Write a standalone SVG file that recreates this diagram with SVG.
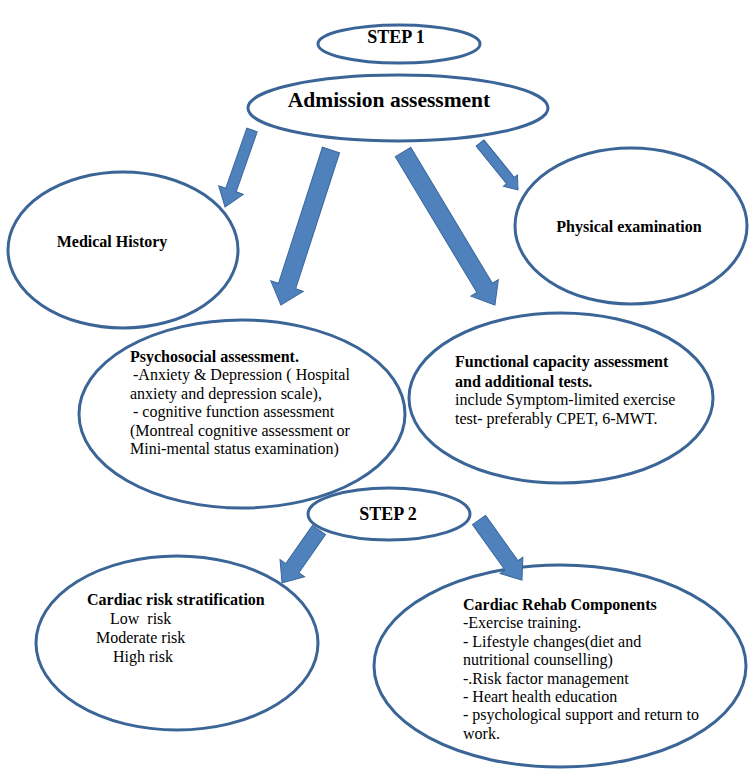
<svg xmlns="http://www.w3.org/2000/svg" width="755" height="776" viewBox="0 0 755 776">
<style>
.node{fill:#fff;stroke:#3b6597;stroke-width:3}
.arrow{fill:#4f81bd;stroke:#3a679c;stroke-width:1}
.b{font-family:"Liberation Serif","Times New Roman",serif;font-weight:bold;font-size:16px;fill:#000}
.t{font-family:"Liberation Serif","Times New Roman",serif;font-size:16px;fill:#000}
</style>
<rect width="755" height="776" fill="#fff"/>
<g id="step1"><ellipse class="node" cx="399" cy="44" rx="81" ry="19"/><text class="b" style="font-size:18px" x="396" y="43" text-anchor="middle">STEP 1</text></g>
<g id="admission"><ellipse class="node" cx="398" cy="108" rx="150" ry="33"/><text class="b" style="font-size:21.5px" x="389" y="107" text-anchor="middle">Admission assessment</text></g>
<g id="medical"><ellipse class="node" cx="123" cy="250" rx="115" ry="78"/><text class="b" x="112" y="247" text-anchor="middle">Medical History</text></g>
<g id="physical"><ellipse class="node" cx="631" cy="226" rx="116" ry="78"/><text class="b" x="629" y="232" text-anchor="middle">Physical examination</text></g>
<g id="psychosocial"><ellipse class="node" cx="242" cy="414" rx="163" ry="94"/>
<text class="b" x="130" y="362">Psychosocial assessment.</text>
<text class="t" x="133" y="380">-Anxiety &amp; Depression ( Hospital</text>
<text class="t" x="130" y="399">anxiety and depression scale),</text>
<text class="t" x="133" y="417">- cognitive function assessment</text>
<text class="t" x="130" y="436">(Montreal cognitive assessment or</text>
<text class="t" x="130" y="454">Mini-mental status examination)</text>
</g>
<g id="functional"><ellipse class="node" cx="561" cy="398" rx="152" ry="85"/>
<text class="b" x="455" y="367">Functional capacity assessment</text>
<text class="b" x="455" y="387">and additional tests.</text>
<text class="t" x="455" y="405">include Symptom-limited exercise</text>
<text class="t" x="455" y="424">test- preferably CPET, 6-MWT.</text>
</g>
<g id="step2"><ellipse class="node" cx="389" cy="514" rx="81" ry="26"/><text class="b" style="font-size:18px" x="388" y="520" text-anchor="middle">STEP 2</text></g>
<g id="risk"><ellipse class="node" cx="177" cy="643" rx="141" ry="87"/>
<text class="b" x="87" y="605">Cardiac risk stratification</text>
<text class="t" x="110" y="624" xml:space="preserve">Low  risk</text>
<text class="t" x="96" y="643">Moderate risk</text>
<text class="t" x="113" y="662">High risk</text>
</g>
<g id="rehab"><ellipse class="node" cx="560" cy="666" rx="186" ry="101"/>
<text class="b" x="463" y="610">Cardiac Rehab Components</text>
<text class="t" x="463" y="628">-Exercise training.</text>
<text class="t" x="463" y="647">- Lifestyle changes(diet and</text>
<text class="t" x="463" y="665">nutritional counselling)</text>
<text class="t" x="463" y="684">-.Risk factor management</text>
<text class="t" x="463" y="702">- Heart health education</text>
<text class="t" x="463" y="720">- psychological support and return to</text>
<text class="t" x="463" y="739">work.</text>
</g>
<g id="connectors">
<polygon class="arrow" transform="translate(252,130) rotate(109.3)" points="0,-5.5 63.6,-5.5 63.6,-13 81.6,0 63.6,13 63.6,5.5 0,5.5"/>
<polygon class="arrow" transform="translate(331,150) rotate(107.9)" points="0,-9 143,-9 143,-17 163,0 143,17 143,9 0,9"/>
<polygon class="arrow" transform="translate(403,152) rotate(59)" points="0,-9 158.5,-9 158.5,-16 178.5,0 158.5,16 158.5,9 0,9"/>
<polygon class="arrow" transform="translate(480,143) rotate(51)" points="0,-5 48.4,-5 48.4,-9 60.4,0 48.4,9 48.4,5 0,5"/>
<polygon class="arrow" transform="translate(319,530) rotate(124.9)" points="0,-8 46.6,-8 46.6,-15 64.6,0 46.6,15 46.6,8 0,8"/>
<polygon class="arrow" transform="translate(479,520) rotate(54.4)" points="0,-8 55.8,-8 55.8,-14 73.8,0 55.8,14 55.8,8 0,8"/>
</g>
</svg>
